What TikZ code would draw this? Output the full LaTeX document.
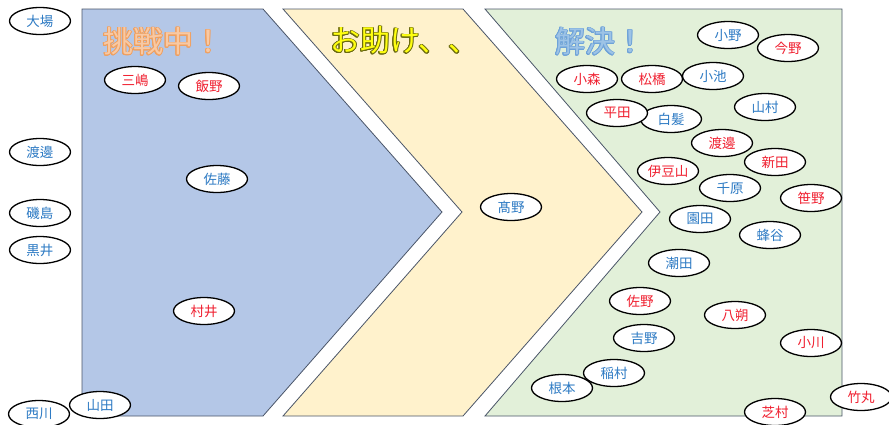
\documentclass[tikz,border=0pt]{standalone}
\usepackage{fontspec}
\newfontfamily\jp{Noto Sans CJK JP}
\usepackage[copies]{contour}
\usetikzlibrary{shapes.geometric}
\definecolor{bluefill}{HTML}{B4C7E7}
\definecolor{yellowfill}{HTML}{FFF2CC}
\definecolor{greenfill}{HTML}{E2F0D9}
\definecolor{edge}{HTML}{4A5568}
\definecolor{nameblue}{HTML}{2E7BC4}
\definecolor{namered}{HTML}{F02030}
\definecolor{orangefill}{HTML}{F8C9A4}
\definecolor{orangeline}{HTML}{F0A060}
\definecolor{yellowtext}{HTML}{FFFF10}
\definecolor{yellowline}{HTML}{6B6B10}
\definecolor{skyfill}{HTML}{9DC3E6}
\definecolor{skyline}{HTML}{6FA3D8}
\begin{document}
\begin{tikzpicture}[x=1pt,y=-1pt,
  person/.style={ellipse, draw=black, line width=1.3pt, fill=white,
    minimum width=61pt, minimum height=27pt, inner sep=0pt,
    font=\jp\fontsize{13.5}{14}\selectfont},
  pb/.style={person, text=nameblue},
  pr/.style={person, text=namered},
  panel/.style={draw=edge, line width=0.8pt},
  title/.style={anchor=west, inner sep=0pt, font=\jp\fontsize{30}{32}\selectfont}]
\useasboundingbox (0,0) rectangle (889,424);
% panels
\draw[panel, fill=bluefill] (82,9) -- (263,9) -- (442,212) -- (263,416) -- (82,416) -- cycle;
\draw[panel, fill=yellowfill] (283,9) -- (463,9) -- (642,212) -- (463,416) -- (283,416) -- (462,212) -- cycle;
\draw[panel, fill=greenfill] (485,9) -- (842,9) -- (842,416) -- (485,416) -- (660,212) -- cycle;
% titles
\contourlength{0.8pt}
\node[title, text=orangefill] (t1) at (103,42) {\contour{orangeline}{挑戦中！}};
\node[title, text=yellowtext] (t2) at (330,41) {\contour{yellowline}{お助け、、}};
\node[title, text=skyfill] (t3) at (555,42) {\contour{skyline}{解決！}};
% left column
\node[pb] (oba) at (40,21) {大場};
\node[pb] (watanabe1) at (40,152) {渡邊};
\node[pb] (isojima) at (40,213) {磯島};
\node[pb] (kuroi) at (40,250) {黒井};
\node[pb] (nishikawa) at (39,414) {西川};
\node[pb] (yamada) at (100,405) {山田};
% blue panel
\node[pr] (mishima) at (135,80) {三嶋};
\node[pr] (iino) at (209,86) {飯野};
\node[pb] (sato) at (217,179) {佐藤};
\node[pr] (murai) at (204,311) {村井};
% yellow panel
\node[pb] (takano) at (511,207) {髙野};
% green panel
\node[pb] (ono) at (728,35) {小野};
\node[pr] (konno) at (788,48) {今野};
\node[pb] (koike) at (713,76) {小池};
\node[pr] (komori) at (587,79) {小森};
\node[pr] (matsuhashi) at (652,79) {松橋};
\node[pb] (shiraga) at (671,119) {白髪};
\node[pr] (hirata) at (617,113) {平田};
\node[pb] (yamamura) at (765,107) {山村};
\node[pr] (watanabe2) at (722,143) {渡邊};
\node[pr] (nitta) at (775,162) {新田};
\node[pr] (izuyama) at (668,171) {伊豆山};
\node[pb] (chihara) at (730,188) {千原};
\node[pr] (sasano) at (811,198) {笹野};
\node[pb] (sonoda) at (700,219) {園田};
\node[pb] (hachiya) at (770,235) {蜂谷};
\node[pb] (ushioda) at (679,263) {潮田};
\node[pr] (sano) at (640,301) {佐野};
\node[pb] (yoshino) at (644,338) {吉野};
\node[pr] (hassaku) at (735,315) {八朔};
\node[pr] (ogawa) at (811,343) {小川};
\node[pb] (inamura) at (614,373) {稲村};
\node[pb] (nemoto) at (562,388) {根本};
\node[pr] (takemaru) at (861,397) {竹丸};
\node[pr] (shibamura) at (775,412) {芝村};
\end{tikzpicture}
\end{document}
